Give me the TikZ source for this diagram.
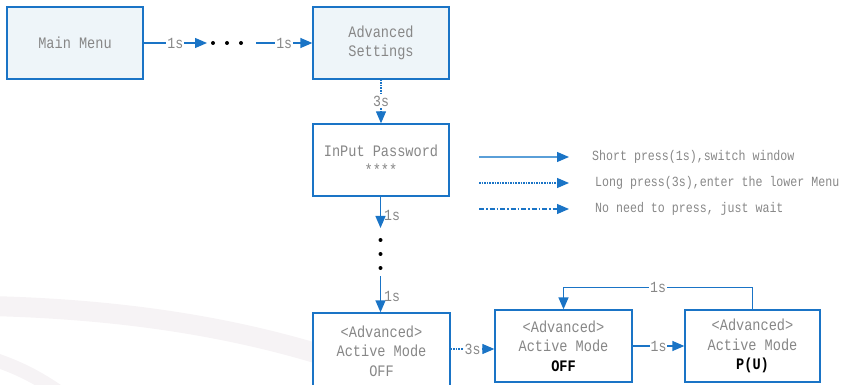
\documentclass[tikz,border=0pt]{standalone}
\usepackage{fontspec}
\usetikzlibrary{arrows.meta,calc}
\newfontfamily\boxfont{Liberation Mono}[FakeStretch=0.85]
\newfontfamily\legfont{Liberation Mono}[FakeStretch=0.83]
\definecolor{lineblue}{HTML}{1A74C6}
\definecolor{legblue}{HTML}{5A9FD8}
\definecolor{boxfill}{HTML}{EEF5F9}
\definecolor{txtgray}{HTML}{878787}
\definecolor{wmark}{HTML}{F6F3F5}
\begin{document}
\begin{tikzpicture}[x=1pt,y=-1pt,
  box/.style={draw=lineblue,line width=1.3pt,minimum width=136pt,minimum height=72pt,
    inner sep=0pt,align=center,text=txtgray,font=\boxfont\fontsize{16}{19.5}\selectfont},
  arr/.style={draw=lineblue,line width=1.3pt,-{Triangle[length=12pt,width=10pt]}},
  legarr/.style={draw=legblue,line width=1.3pt,-{Triangle[length=12pt,width=10pt,fill=lineblue,color=lineblue]}},
  dots/.style={line width=1.2pt,dash pattern=on 1.6pt off 1pt},
  dashdot/.style={line width=1.2pt,dash pattern=on 5pt off 2pt on 1.5pt off 2pt},
  lbl/.style={fill=white,inner sep=1pt,text=txtgray,font=\boxfont\fontsize{15.5}{17}\selectfont},
  dot/.style={circle,fill=black,inner sep=0pt,minimum size=4pt},
  legtxt/.style={anchor=west,inner sep=0pt,text=txtgray,font=\legfont\fontsize{14}{16}\selectfont}]
\useasboundingbox (0,0) rectangle (847,385);
% watermark arcs
\draw[wmark,line width=20pt] (-10,306) .. controls (150,310) and (300,335) .. (440,400);
\draw[wmark,line width=14pt] (-10,358) .. controls (20,368) and (40,378) .. (70,400);
% boxes
\node[box,fill=boxfill] (main) at (75,43) {Main Menu};
\node[box,fill=boxfill] (adv) at (381,43) {Advanced\\Settings};
\node[box,fill=white] (pw) at (381,160) {InPut Password\\****};
\node[box,fill=white,minimum height=76pt,minimum width=137pt] (act1) at (381.5,351) {<Advanced>\\Active Mode\\OFF};
\node[box,fill=white,minimum width=137pt] (act2) at (563.5,346) {<Advanced>\\Active Mode\\\textcolor{black}{\bfseries OFF}};
\node[box,fill=white,minimum width=135pt] (act3) at (752.5,346) {<Advanced>\\Active Mode\\\textcolor{black}{\bfseries P(U)}};
% horizontal dots
\node[dot] (h1) at (213,43) {};
\node[dot] (h2) at (227,43) {};
\node[dot] (h3) at (241,43) {};
\coordinate (ha) at (207,43);
\coordinate (hb) at (256,43);
\draw[arr] (main.east) -- node[lbl]{1s} (ha);
\draw[arr] (hb) -- node[lbl]{1s} (adv.west);
% vertical
\draw[arr,dots] (adv.south) -- node[lbl]{3s} (pw.north);
\node[dot] (v1) at (380.5,240) {};
\node[dot] (v2) at (380.5,254) {};
\node[dot] (v3) at (380.5,268) {};
\coordinate (va) at (380.5,228);
\coordinate (vb) at (380.5,276);
\draw[arr] (pw.south -| va) -- node[lbl,fill=none,anchor=west,pos=0.6,xshift=2pt]{1s} (va);
\draw[arr] (vb) -- node[lbl,fill=none,anchor=west,pos=0.57,xshift=2pt]{1s} (vb |- act1.north);
% bottom row
\coordinate (a1e) at ($(act1.east |- act2.east)+(0,3)$);
\draw[arr,dots] (a1e) -- node[lbl]{3s} (act2.west |- a1e);
\draw[arr] (act2.east) -- node[lbl]{1s} (act3.west);
\draw[arr] (act3.north) -- ++(0,-22) -| node[lbl,pos=0.25]{1s} (act2.north);
% legend
\coordinate (l1a) at (479,157); \coordinate (l1b) at (569,157);
\coordinate (l2a) at (479,183); \coordinate (l2b) at (569,183);
\coordinate (l3a) at (479,209); \coordinate (l3b) at (569,209);
\draw[legarr] (l1a) -- (l1b);
\draw[legarr,draw=lineblue,dots] (l2a) -- (l2b);
\draw[legarr,draw=lineblue,dashdot] (l3a) -- (l3b);
\node[legtxt] (t1) at (592,157) {Short press(1s),switch window};
\node[legtxt] (t2) at (595,183) {Long press(3s),enter the lower Menu};
\node[legtxt] (t3) at (595,209) {No need to press, just wait};
\end{tikzpicture}
\end{document}
